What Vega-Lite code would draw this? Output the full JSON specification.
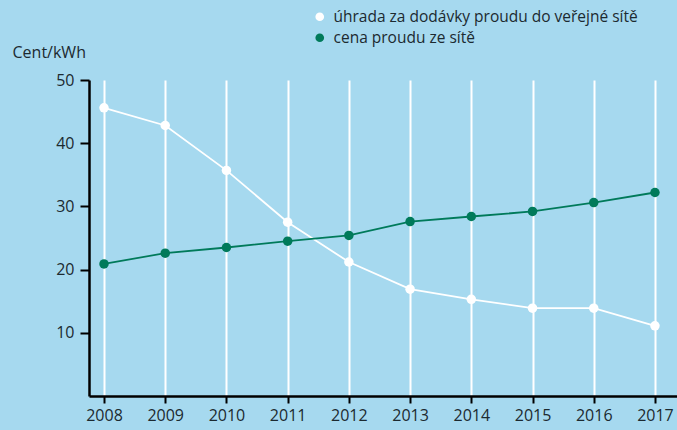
{
  "$schema": "https://vega.github.io/schema/vega-lite/v6.json",
  "width": 588,
  "height": 316,
  "autosize": {"type": "none"},
  "padding": {"left": 89, "top": 80, "right": 0, "bottom": 34},
  "background": "#a6d9ef",
  "config": {
    "view": {"stroke": null},
    "font": "Open Sans",
    "axis": {"labelFont": "Open Sans", "titleFont": "Open Sans"}
  },
  "data": {
    "values": [
      {"year": 2008, "series": "úhrada za dodávky proudu do veřejné sítě", "value": 45.6},
      {"year": 2009, "series": "úhrada za dodávky proudu do veřejné sítě", "value": 42.8},
      {"year": 2010, "series": "úhrada za dodávky proudu do veřejné sítě", "value": 35.7},
      {"year": 2011, "series": "úhrada za dodávky proudu do veřejné sítě", "value": 27.5},
      {"year": 2012, "series": "úhrada za dodávky proudu do veřejné sítě", "value": 21.2},
      {"year": 2013, "series": "úhrada za dodávky proudu do veřejné sítě", "value": 16.9},
      {"year": 2014, "series": "úhrada za dodávky proudu do veřejné sítě", "value": 15.3},
      {"year": 2015, "series": "úhrada za dodávky proudu do veřejné sítě", "value": 13.9},
      {"year": 2016, "series": "úhrada za dodávky proudu do veřejné sítě", "value": 13.9},
      {"year": 2017, "series": "úhrada za dodávky proudu do veřejné sítě", "value": 11.1},
      {"year": 2008, "series": "cena proudu ze sítě", "value": 20.9},
      {"year": 2009, "series": "cena proudu ze sítě", "value": 22.6},
      {"year": 2010, "series": "cena proudu ze sítě", "value": 23.5},
      {"year": 2011, "series": "cena proudu ze sítě", "value": 24.5},
      {"year": 2012, "series": "cena proudu ze sítě", "value": 25.4},
      {"year": 2013, "series": "cena proudu ze sítě", "value": 27.6},
      {"year": 2014, "series": "cena proudu ze sítě", "value": 28.4},
      {"year": 2015, "series": "cena proudu ze sítě", "value": 29.2},
      {"year": 2016, "series": "cena proudu ze sítě", "value": 30.6},
      {"year": 2017, "series": "cena proudu ze sítě", "value": 32.2}
    ]
  },
  "encoding": {
    "x": {
      "field": "year",
      "type": "quantitative",
      "scale": {"domain": [2007.755, 2017.36], "nice": false, "zero": false},
      "axis": {
        "values": [2008, 2009, 2010, 2011, 2012, 2013, 2014, 2015, 2016, 2017],
        "format": "d",
        "title": null,
        "grid": true,
        "gridColor": "#ffffff",
        "gridWidth": 2,
        "gridOpacity": 1,
        "domainColor": "#000000",
        "domainWidth": 2.5,
        "tickColor": "#000000",
        "tickWidth": 2,
        "tickSize": 7,
        "labelFontSize": 16,
        "labelColor": "#1c2a30",
        "labelPadding": 4,
        "labelFlush": false
      }
    },
    "y": {
      "field": "value",
      "type": "quantitative",
      "scale": {"domain": [0, 50], "nice": false},
      "axis": {
        "values": [10, 20, 30, 40, 50],
        "title": "Cent/kWh",
        "titleAngle": 0,
        "titleX": -77,
        "titleY": -28,
        "titleAlign": "left",
        "titleBaseline": "middle",
        "titleFontSize": 16,
        "titleFontWeight": "normal",
        "titleColor": "#1c2a30",
        "grid": false,
        "domainColor": "#000000",
        "domainWidth": 2.5,
        "tickColor": "#000000",
        "tickWidth": 2,
        "tickSize": 9,
        "labelFontSize": 16,
        "labelColor": "#1c2a30",
        "labelPadding": 6,
        "labelFlush": false
      }
    },
    "color": {
      "field": "series",
      "type": "nominal",
      "scale": {
        "domain": ["úhrada za dodávky proudu do veřejné sítě", "cena proudu ze sítě"],
        "range": ["#ffffff", "#007a5a"]
      },
      "legend": {
        "title": null,
        "orient": "none",
        "legendX": 223,
        "legendY": -71,
        "symbolType": "circle",
        "symbolSize": 75,
        "symbolStrokeWidth": 0,
        "labelFontSize": 15.5,
        "labelLimit": 0,
        "labelColor": "#1c2a30",
        "rowPadding": 4,
        "labelOffset": 6
      }
    }
  },
  "layer": [
    {"mark": {"type": "line", "strokeWidth": 1.8}},
    {"mark": {"type": "point", "filled": true, "size": 90, "opacity": 1}}
  ]
}
